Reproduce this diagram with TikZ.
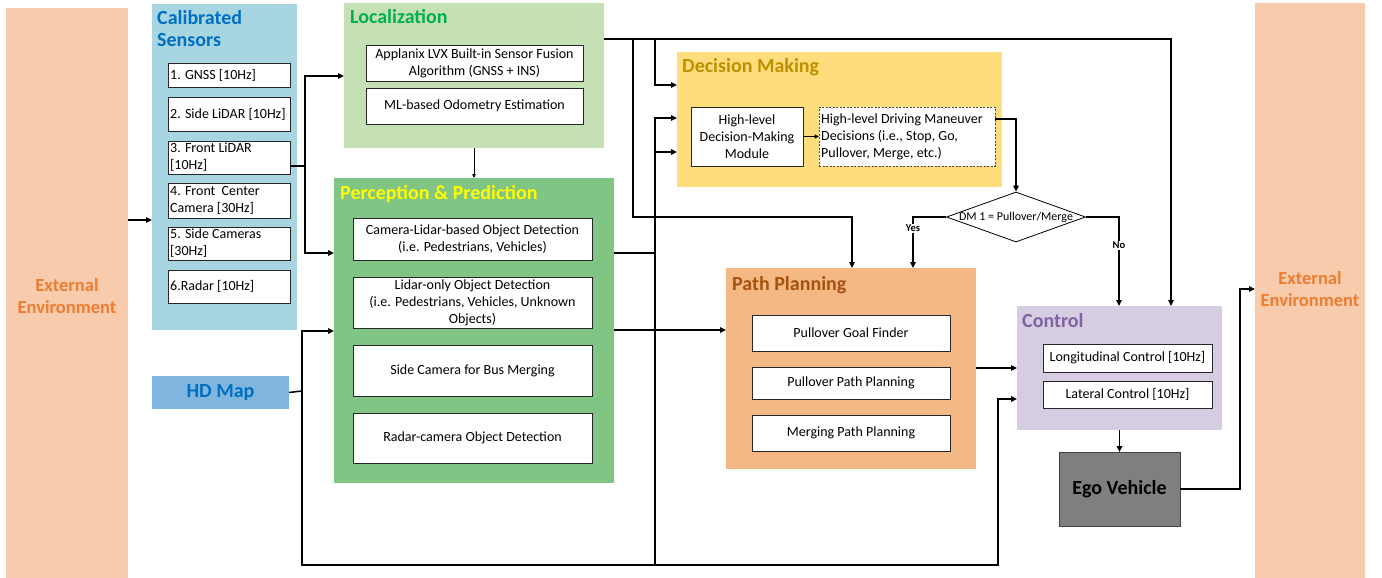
\documentclass[tikz,border=0pt]{standalone}
\usepackage{fontspec}
\setmainfont{Carlito}
\usetikzlibrary{arrows.meta,shapes.geometric}
\definecolor{extbg}{HTML}{F8CBAD}
\definecolor{extfg}{HTML}{ED7D31}
\definecolor{senbg}{HTML}{A8D5E2}
\definecolor{blueA}{HTML}{0070C0}
\definecolor{hdbg}{HTML}{7FB5DE}
\definecolor{locbg}{HTML}{C5E0B4}
\definecolor{locfg}{HTML}{00B050}
\definecolor{perbg}{HTML}{81C585}
\definecolor{perfg}{HTML}{FFFF00}
\definecolor{dmbg}{HTML}{FFDC7C}
\definecolor{dmfg}{HTML}{BF9000}
\definecolor{ppbg}{HTML}{F4B884}
\definecolor{ppfg}{HTML}{A5520F}
\definecolor{ctbg}{HTML}{D6CDE3}
\definecolor{ctfg}{HTML}{8064A2}
\definecolor{egobg}{HTML}{7F7F7F}
\newcommand\fs[2]{\fontsize{#1}{#2}\selectfont}
\newcommand\mybox[7]{\node[#6, minimum width={#4-#2}, minimum height={#5-#3}] (#1) at (#2,#3) {#7};}
\begin{document}
\begin{tikzpicture}[x=1pt,y=-1pt,
  region/.style={anchor=north west, inner sep=0pt, outer sep=0pt, draw=none},
  inbox/.style={anchor=north west, inner sep=0pt, outer sep=0pt, draw=black!85, line width=0.8pt, fill=white, font=\fs{14}{17}, align=center},
  ttl/.style={anchor=base west, inner sep=0pt, font=\fs{20}{22}\bfseries},
  sentxt/.style={anchor=west, inner sep=0pt, font=\fs{14}{17}, align=left},
  conn/.style={line width=1.5pt, -{Triangle[length=6pt,width=5.5pt]}},
  thinconn/.style={line width=0.8pt, -{Triangle[length=4pt,width=3.5pt]}},
  wire/.style={line width=1.5pt},
  lbl/.style={fill=white, inner sep=1pt, font=\fs{10.5}{12}\bfseries},
]
\useasboundingbox (0,0) rectangle (1382,578);
% external environments
\mybox{extL}{6}{8}{128}{578}{region, fill=extbg}{}
\node[font=\fs{18.5}{22}\bfseries, text=extfg, align=center] at (67,296) {External\\Environment};
\mybox{extR}{1255}{3}{1365}{578}{region, fill=extbg}{}
\node[font=\fs{18.5}{22}\bfseries, text=extfg, align=center] at (1310,289) {External\\Environment};
% calibrated sensors
\mybox{sens}{152}{4}{297}{330}{region, fill=senbg}{}
\node[ttl, text=blueA] at (157,25) {Calibrated};
\node[ttl, text=blueA] at (157,47) {Sensors};
\mybox{s1}{168}{63}{290}{87}{inbox}{}
\mybox{s2}{168}{97}{290}{131}{inbox}{}
\mybox{s3}{168}{141}{290}{174}{inbox}{}
\mybox{s4}{168}{183}{290}{218}{inbox}{}
\mybox{s5}{168}{227}{290}{260}{inbox}{}
\mybox{s6}{168}{270}{290}{303}{inbox}{}
\node[sentxt] at ([xshift=2pt]s1.west) {1. GNSS [10Hz]};
\node[sentxt] at ([xshift=2pt]s2.west) {2. Side LiDAR [10Hz]};
\node[sentxt] at ([xshift=2pt]s3.west) {3. Front LiDAR\\{[10Hz]}};
\node[sentxt] at ([xshift=2pt]s4.west) {4. Front\ \ Center\\Camera [30Hz]};
\node[sentxt] at ([xshift=2pt]s5.west) {5. Side Cameras\\{[30Hz]}};
\node[sentxt] at ([xshift=2pt]s6.west) {6.Radar [10Hz]};
% HD map
\mybox{hd}{152}{376}{289}{409}{region, fill=hdbg, font=\fs{20}{22}\bfseries, text=blueA}{HD Map}
% localization
\mybox{loc}{344}{3}{604}{148}{region, fill=locbg}{}
\node[ttl, text=locfg] at (350,24) {Localization};
\mybox{l1}{366}{45}{583}{81}{inbox}{Applanix LVX Built-in Sensor Fusion\\Algorithm (GNSS + INS)}
\mybox{l2}{366}{88}{583}{124}{inbox}{ML-based Odometry Estimation}
% perception
\mybox{per}{334}{178}{614}{483}{region, fill=perbg}{}
\node[ttl, text=perfg] at (340,199) {Perception \& Prediction};
\mybox{p1}{353}{218}{592}{260}{inbox}{Camera-Lidar-based Object Detection\\(i.e. Pedestrians, Vehicles)}
\mybox{p2}{353}{277}{592}{328}{inbox}{Lidar-only Object Detection\\(i.e. Pedestrians, Vehicles, Unknown\\Objects)}
\mybox{p3}{353}{345}{592}{396}{inbox}{Side Camera for Bus Merging}
\mybox{p4}{353}{413}{592}{463}{inbox}{Radar-camera Object Detection}
% decision making
\mybox{dm}{677}{52}{1002}{187}{region, fill=dmbg}{}
\node[ttl, text=dmfg] at (682,73) {Decision Making};
\mybox{d1}{691}{107}{803}{166}{inbox}{High-level\\Decision-Making\\Module}
\mybox{d2}{819}{107}{995}{166}{inbox, draw=black!70, dash pattern=on 2pt off 1.5pt}{}
\node[sentxt] at ([xshift=2pt]d2.west) {High-level Driving Maneuver\\Decisions (i.e., Stop, Go,\\Pullover, Merge, etc.)};
% diamond
\node[diamond, draw=black, line width=0.8pt, fill=white, inner sep=0pt, minimum width=139pt, minimum height=50pt] (dia) at (1016,217) {};
\node[font=\fs{12}{14}, inner sep=0pt] at (dia.center) {DM 1 = Pullover/Merge};
% path planning
\mybox{pp}{726}{268}{976}{469}{region, fill=ppbg}{}
\node[ttl, text=ppfg] at (732,290) {Path Planning};
\mybox{pp1}{752}{315}{950}{351}{inbox}{Pullover Goal Finder}
\mybox{pp2}{752}{367}{950}{399}{inbox}{Pullover Path Planning}
\mybox{pp3}{752}{415}{950}{451}{inbox}{Merging Path Planning}
% control
\mybox{ctl}{1017}{306}{1222}{430}{region, fill=ctbg}{}
\node[ttl, text=ctfg] at (1022,327) {Control};
\mybox{c1}{1043}{344}{1212}{372}{inbox}{Longitudinal Control [10Hz]}
\mybox{c2}{1043}{381}{1212}{408}{inbox}{Lateral Control [10Hz]}
% ego
\mybox{ego}{1059}{452}{1180}{526}{region, fill=egobg, draw=black!75, line width=1pt, font=\fs{20}{22}\bfseries}{Ego Vehicle}
% junction coordinates
\coordinate (sb) at (305,166);
\coordinate (hdx) at (302,391);
\coordinate (bl) at (998,565);
\coordinate (j1) at (655,217);
\coordinate (j2) at (655,330);
\coordinate (tb1) at (633,39);
\coordinate (tb2) at (655,39);
\coordinate (vb) at (655,565);
\coordinate (eg1) at (1240,289);
% connectors
\draw[conn] (extL.east |- 0,220) -- (sens.west |- 0,220);
\draw[wire] (s3.east |- sb) -- (sb);
\draw[conn] (sb) |- (loc.west |- 0,76);
\draw[conn] (sb) |- (per.west |- 0,253);
\draw[thinconn] (loc.south) -- (per.north);
\draw[wire] (hd.east) -- (hdx);
\draw[conn] (hdx) |- (per.west |- 0,331);
\draw[conn] (hdx) |- (bl) |- (ctl.west |- 0,399);
\draw[conn] (loc.east |- tb1) -| (ctl.north -| 1171,0);
\draw[conn] (tb1) |- (852,217) -- (pp.north -| 852,0);
\draw[conn] (tb2) |- (dm.west |- 0,85);
\draw[conn] (vb) |- (dm.west |- 0,118);
\draw[conn] (655,152) -- (dm.west |- 0,152);
\draw[wire] (per.east |- 0,253) -- (655,253);
\draw[conn] (per.east |- j2) -- (pp.west |- j2);
\fill (j1) circle (1.7pt);
\fill (j2) circle (1.7pt);
\draw[line width=1pt, -{Triangle[length=4.5pt,width=4pt]}] (d1.east) -- (d2.west);
\draw[conn] (d2.east |- 0,119) -| (dia.north);
\draw[conn] (dia.west) -| node[lbl, pos=0.61] {Yes} (pp.north -| 913,0);
\draw[conn] (dia.east) -| node[lbl, pos=0.66] {No} (ctl.north -| 1119,0);
\draw[conn] (pp.east |- 0,368) -- (ctl.west |- 0,368);
\draw[conn] (ctl.south) -- (ego.north);
\draw[conn] (ego.east) -| (eg1) -- (extR.west |- eg1);
\end{tikzpicture}
\end{document}
